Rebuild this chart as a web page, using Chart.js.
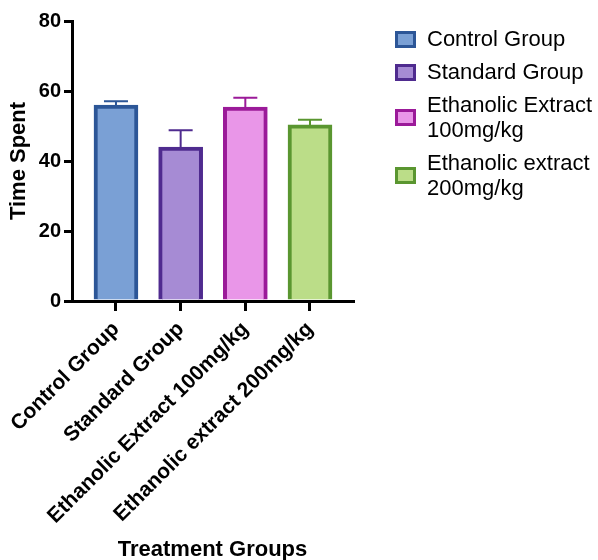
<!DOCTYPE html>
<html>
<head>
<meta charset="utf-8">
<script src="https://cdn.jsdelivr.net/npm/chart.js@4"></script>
<style>
  html, body { margin: 0; padding: 0; background: #fff; }
  #wrap { position: relative; width: 598px; height: 560px; }
  #legend { position: absolute; left: 394px; top: 26px; font-family: "Liberation Sans", Arial, sans-serif; font-size: 22px; color: #000; }
  .item { position: relative; padding-left: 33px; line-height: 25px; margin-bottom: 8px; }
  .box { position: absolute; left: 1px; top: 50%; width: 15px; height: 11px; margin-top: -8px; border: 3px solid; }
</style>
</head>
<body>
<div id="wrap">
  <canvas id="c" width="598" height="560"></canvas>
  <div id="legend"></div>
</div>
<script>
const categories = ["Control Group", "Standard Group", "Ethanolic Extract 100mg/kg", "Ethanolic extract 200mg/kg"];
const legendLabels = [["Control Group"], ["Standard Group"], ["Ethanolic Extract", "100mg/kg"], ["Ethanolic extract", "200mg/kg"]];
const positions = [1, 2, 3, 4];
const values = [56.0, 44.0, 55.4, 50.3];
const errors = [1.1, 4.8, 2.7, 1.5];
const yTicks = [0, 20, 40, 60, 80];
const fillColors = ["#7AA0D5", "#A68BD4", "#E996E8", "#BBDD88"];
const borderColors = ["#2C5697", "#4F2B8F", "#9B1A99", "#5A9630"];

const FONT = "'Liberation Sans', Arial, sans-serif";

const errorBars = {
  id: 'errorBars',
  afterDatasetsDraw(chart) {
    const xs = chart.scales.x, ys = chart.scales.y, ctx = chart.ctx;
    ctx.save();
    ctx.lineWidth = 2;
    for (let i = 0; i < values.length; i++) {
      const x = xs.getPixelForValue(positions[i]);
      const y0 = ys.getPixelForValue(values[i]);
      const y1 = ys.getPixelForValue(values[i] + errors[i]);
      ctx.strokeStyle = borderColors[i];
      ctx.beginPath();
      ctx.moveTo(x, y0);
      ctx.lineTo(x, y1);
      ctx.moveTo(x - 12, y1);
      ctx.lineTo(x + 12, y1);
      ctx.stroke();
    }
    ctx.restore();
  }
};

new Chart(document.getElementById('c'), {
  type: 'bar',
  data: {
    datasets: [{
      data: positions.map((p, i) => ({ x: p, y: values[i] })),
      backgroundColor: fillColors,
      borderColor: borderColors,
      borderWidth: 4,
      borderSkipped: 'start',
      barThickness: 44
    }]
  },
  options: {
    responsive: false,
    animation: false,
    layout: { padding: { top: 21, right: 245, left: 0, bottom: 0 } },
    plugins: { legend: { display: false }, tooltip: { enabled: false } },
    scales: {
      x: {
        type: 'linear',
        offset: false,
        min: 0.32,
        max: 4.665,
        afterBuildTicks(scale) {
          scale.ticks = positions.map(v => ({ value: v }));
        },
        afterFit(scale) { scale.height = 259; scale.paddingLeft = 0; scale.paddingRight = 0; },
        ticks: {
          callback: (v) => categories[positions.indexOf(v)] || '',
          minRotation: 45,
          maxRotation: 45,
          autoSkip: false,
          color: '#000',
          font: { family: FONT, size: 21, weight: 'bold' },
          padding: 6
        },
        grid: { offset: false, drawOnChartArea: false, drawTicks: true, tickLength: 10, color: '#000', lineWidth: 3 },
        border: { color: '#000', width: 3 },
        title: {
          display: true,
          text: 'Treatment Groups',
          color: '#000',
          font: { family: FONT, size: 22, weight: 'bold' },
          padding: { top: 0, bottom: -3 }
        }
      },
      y: {
        min: 0,
        max: 80,
        afterBuildTicks(scale) {
          scale.ticks = yTicks.map(v => ({ value: v }));
        },
        afterFit(scale) { scale.width = 72; },
        ticks: {
          color: '#000',
          font: { family: FONT, size: 20, weight: 'bold' },
          padding: 3
        },
        grid: { drawOnChartArea: false, drawTicks: true, tickLength: 8, color: '#000', lineWidth: 3 },
        border: { color: '#000', width: 3 },
        title: {
          display: true,
          text: 'Time Spent',
          color: '#000',
          font: { family: FONT, size: 22, weight: 'bold' },
          padding: { top: 6, bottom: 4 }
        }
      }
    }
  },
  plugins: [errorBars]
});

const legend = document.getElementById('legend');
legendLabels.forEach((lines, i) => {
  const item = document.createElement('div');
  item.className = 'item';
  const box = document.createElement('span');
  box.className = 'box';
  box.style.background = fillColors[i];
  box.style.borderColor = borderColors[i];
  item.appendChild(box);
  lines.forEach((t, j) => {
    if (j) item.appendChild(document.createElement('br'));
    item.appendChild(document.createTextNode(t));
  });
  legend.appendChild(item);
});
</script>
</body>
</html>
